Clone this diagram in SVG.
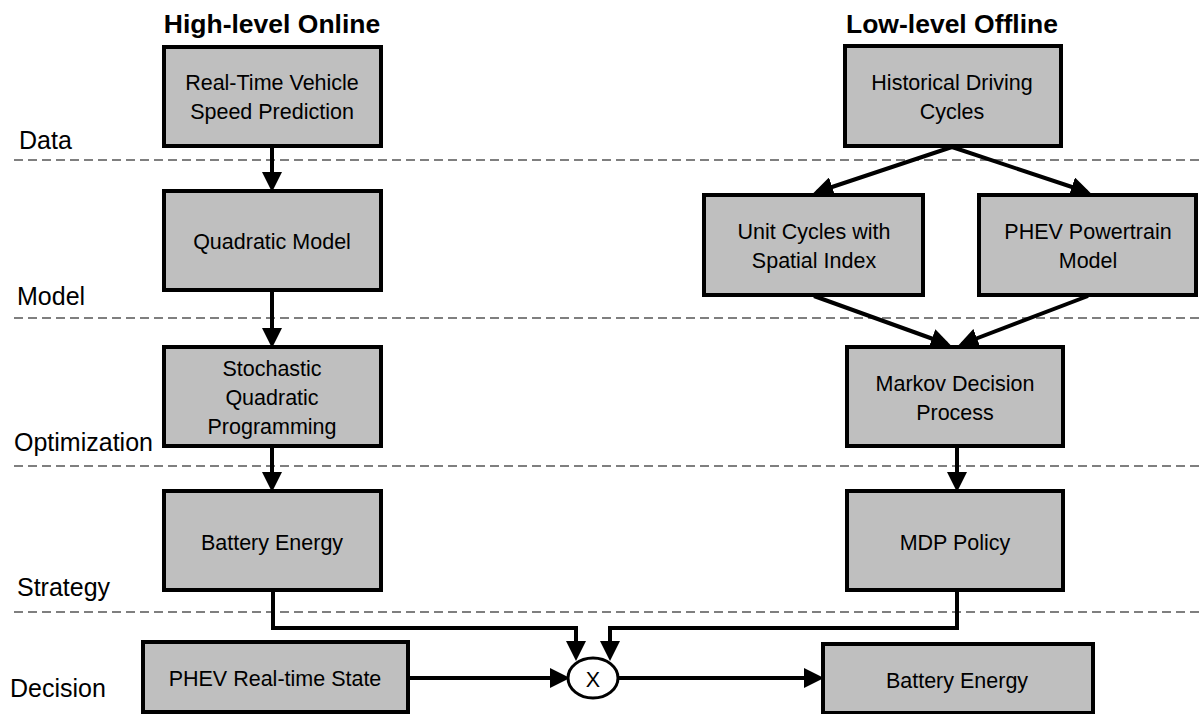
<svg xmlns="http://www.w3.org/2000/svg" width="1200" height="714" viewBox="0 0 1200 714">
<defs>
<marker id="ah" markerWidth="5" markerHeight="5" refX="4" refY="2.5" orient="auto" markerUnits="strokeWidth">
<path d="M0,0 L5,2.5 L0,5 Z" fill="#000"/>
</marker>
<style>
.box{fill:#bfbfbf;stroke:#000;stroke-width:4}
.t{font-family:"Liberation Sans",Arial,sans-serif;font-size:21.5px;fill:#000;text-anchor:middle}
.lab{font-family:"Liberation Sans",Arial,sans-serif;font-size:25px;fill:#000}
.title{font-family:"Liberation Sans",Arial,sans-serif;font-size:26.5px;font-weight:bold;fill:#000;text-anchor:middle}
.dash{stroke:#555;stroke-width:1.3;stroke-dasharray:9,5;fill:none}
.c{stroke:#000;stroke-width:4;fill:none;marker-end:url(#ah)}
</style>
</defs>
<rect width="1200" height="714" fill="#fff"/>
<g id="titles">
<text class="title" x="272" y="33">High-level Online</text>
<text class="title" x="952" y="33">Low-level Offline</text>
</g>
<g id="layers">
<line class="dash" x1="14" y1="160" x2="1200" y2="160"/>
<line class="dash" x1="14" y1="318" x2="1200" y2="318"/>
<line class="dash" x1="14" y1="466" x2="1200" y2="466"/>
<line class="dash" x1="14" y1="612" x2="1200" y2="612"/>
<text class="lab" x="19" y="149">Data</text>
<text class="lab" x="17" y="305">Model</text>
<text class="lab" x="14" y="451">Optimization</text>
<text class="lab" x="17" y="596">Strategy</text>
<text class="lab" x="10" y="697">Decision</text>
</g>
<g id="connectors">
<line class="c" x1="272" y1="147" x2="272" y2="188"/>
<line class="c" x1="272" y1="291" x2="272" y2="344"/>
<line class="c" x1="272" y1="447" x2="272" y2="488"/>
<polyline class="c" points="273,591 273,628 576,628 576,657"/>
<polyline class="c" points="957,591 957,628 610,628 610,657"/>
<line class="c" x1="409" y1="678" x2="566" y2="678"/>
<line class="c" x1="619" y1="678" x2="820" y2="678"/>
<line class="c" x1="952" y1="147" x2="817" y2="192"/>
<line class="c" x1="952" y1="147" x2="1087" y2="192"/>
<line class="c" x1="814" y1="296" x2="947" y2="344"/>
<line class="c" x1="1088" y1="296" x2="962" y2="344"/>
<line class="c" x1="957" y1="447" x2="957" y2="488"/>
</g>
<g id="n1"><rect class="box" x="164" y="47" width="217" height="99"/><text class="t" x="272" y="90">Real-Time Vehicle</text><text class="t" x="272" y="119">Speed Prediction</text></g>
<g id="n2"><rect class="box" x="164" y="191" width="217" height="99"/><text class="t" x="272" y="249">Quadratic Model</text></g>
<g id="n3"><rect class="box" x="164" y="347" width="217" height="99"/><text class="t" x="272" y="376">Stochastic</text><text class="t" x="272" y="405">Quadratic</text><text class="t" x="272" y="434">Programming</text></g>
<g id="n4"><rect class="box" x="164" y="491" width="217" height="99"/><text class="t" x="272" y="550">Battery Energy</text></g>
<g id="n5"><rect class="box" x="845" y="46" width="216" height="100"/><text class="t" x="952" y="90">Historical Driving</text><text class="t" x="952" y="119">Cycles</text></g>
<g id="n6"><rect class="box" x="704" y="195" width="219" height="100"/><text class="t" x="814" y="239">Unit Cycles with</text><text class="t" x="814" y="268">Spatial Index</text></g>
<g id="n7"><rect class="box" x="979" y="195" width="217" height="100"/><text class="t" x="1088" y="239">PHEV Powertrain</text><text class="t" x="1088" y="268">Model</text></g>
<g id="n8"><rect class="box" x="847" y="347" width="216" height="99"/><text class="t" x="955" y="391">Markov Decision</text><text class="t" x="955" y="420">Process</text></g>
<g id="n9"><rect class="box" x="847" y="491" width="216" height="99"/><text class="t" x="955" y="550">MDP Policy</text></g>
<g id="n10"><rect class="box" x="143" y="642" width="265" height="70"/><text class="t" x="275" y="686">PHEV Real-time State</text></g>
<g id="n11"><rect class="box" x="823" y="644" width="270" height="69"/><text class="t" x="957" y="688">Battery Energy</text></g>
<g id="n12"><ellipse cx="593" cy="678" rx="25" ry="20" fill="#fff" stroke="#000" stroke-width="3"/><text class="t" x="593" y="687" font-size="24">X</text></g>
</svg>
